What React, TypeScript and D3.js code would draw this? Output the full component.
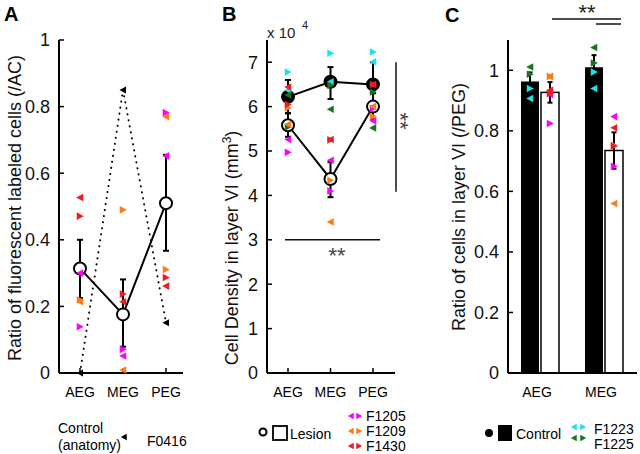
import React from "react";
import * as d3 from "d3";

const GROUPS3 = ["AEG", "MEG", "PEG"];
const GROUPS2 = ["AEG", "MEG"];

const COLORS: Record<string, string> = {
  F1205: "#ff00ff",
  F1209: "#ff7a1a",
  F1430: "#ee1c24",
  F1223: "#19e3ee",
  F1225: "#16761c",
};

// ---------- Panel A: ratio of fluorescent labeled cells (/AC)
const A_TICKS = [0, 0.2, 0.4, 0.6, 0.8, 1];
const A_TICK_LABELS = ["0", "0.2", "0.4", "0.6", "0.8", "1"];
const A_LESION_MEAN = [0.314, 0.176, 0.51];
const A_LESION_LO = [0.225, 0.079, 0.367];
const A_LESION_HI = [0.4, 0.281, 0.655];
const A_CONTROL_F0416 = [0.0, 0.85, 0.151];
const A_F1205_L = [0.3, 0.051, 0.652];
const A_F1205_R = [0.139, 0.071, 0.782];
const A_F1209_L = [0.214, 0.009, 0.77];
const A_F1209_R = [0.22, 0.49, 0.311];
const A_F1430_L = [0.527, 0.214, 0.261];
const A_F1430_R = [0.471, 0.237, 0.287];

// ---------- Panel B: cell density (x10^4 per mm3)
const B_TICKS = [0, 1, 2, 3, 4, 5, 6, 7];
const B_CONTROL_MEAN = [6.22, 6.56, 6.5];
const B_CONTROL_LO = [5.85, 6.17, 6.05];
const B_CONTROL_HI = [6.6, 6.89, 7.0];
const B_LESION_MEAN = [5.58, 4.37, 6.0];
const B_LESION_LO = [5.32, 3.96, 5.72];
const B_LESION_HI = [5.85, 4.75, 6.3];
const B_F1205_L = [5.26, 4.79, 5.68];
const B_F1205_R = [4.97, 4.1, 5.96];
const B_F1209_L = [5.6, 3.4, 6.0];
const B_F1209_R = [5.97, 4.34, 5.78];
const B_F1430_L = [6.44, 5.26, 6.5];
const B_F1430_R = [6.05, 5.25, 6.5];
const B_F1223_L = [6.37, 6.56, 7.01];
const B_F1223_R = [6.78, 7.2, 7.23];
const B_F1225_L = [6.26, 5.94, 5.52];
const B_F1225_R = [5.54, 6.48, 6.33];
const B_SIG_H = 3.0;
const B_SIG_V = [4.08, 7.0];

// ---------- Panel C: ratio of cells in layer VI (/PEG)
const C_TICKS = [0, 0.2, 0.4, 0.6, 0.8, 1];
const C_TICK_LABELS = ["0", "0.2", "0.4", "0.6", "0.8", "1"];
const C_CONTROL_BAR = [0.963, 1.01];
const C_CONTROL_ERR = [0.03, 0.04];
const C_LESION_BAR = [0.927, 0.735];
const C_LESION_ERR = [0.034, 0.06];
const C_F1223_L = [0.907, 0.94];
const C_F1223_R = [0.94, 0.994];
const C_F1225_L = [1.011, 1.075];
const C_F1225_R = [0.987, 1.024];
const C_F1205_L = [0.92, 0.847];
const C_F1205_R = [0.824, 0.683];
const C_F1209_L = [0.98, 0.56];
const C_F1209_R = [0.98, 0.752];
const C_F1430_L = [0.934, 0.81];
const C_F1430_R = [0.923, 0.749];

const FONT = "'Liberation Sans', Arial, Helvetica, sans-serif";

function triPath(x: number, y: number, dir: "L" | "R", s = 3.8) {
  if (dir === "L")
    return `M${x - s},${y}L${x + s * 0.85},${y - s}L${x + s * 0.85},${y + s}Z`;
  return `M${x + s},${y}L${x - s * 0.85},${y - s}L${x - s * 0.85},${y + s}Z`;
}

function Tri({ x, y, dir, color, s = 3.8 }: { x: number; y: number; dir: "L" | "R"; color: string; s?: number }) {
  return <path d={triPath(x, y, dir, s)} fill={color} />;
}

function ErrBar({ x, y1, y2, cap = 3 }: { x: number; y1: number; y2: number; cap?: number }) {
  return (
    <g stroke="#000" strokeWidth={2}>
      <line x1={x} x2={x} y1={y1} y2={y2} />
      <line x1={x - cap} x2={x + cap} y1={y1} y2={y1} />
      <line x1={x - cap} x2={x + cap} y1={y2} y2={y2} />
    </g>
  );
}

function YAxis({ x, y, ticks, labels, top, fs = 18 }: any) {
  return (
    <g>
      <line x1={x} x2={x} y1={top} y2={y(0)} stroke="#000" strokeWidth={2} />
      {ticks.map((t: number, i: number) => (
        <g key={i}>
          <line x1={x} x2={x + 5} y1={y(t)} y2={y(t)} stroke="#000" strokeWidth={1.5} />
          <text x={x - 9} y={y(t)} dy="0.36em" textAnchor="end" fontSize={fs} fill="#111">
            {labels ? labels[i] : String(t)}
          </text>
        </g>
      ))}
    </g>
  );
}

export default function App() {
  // ---------------- Panel A
  const yA = d3.scaleLinear().domain([0, 1]).range([373, 40]);
  const xA = d3.scalePoint<string>().domain(GROUPS3).range([80, 166]);
  const lineA = d3
    .line<number>()
    .x((_, i) => xA(GROUPS3[i]) as number)
    .y((d) => yA(d));
  const aSeries = [
    { id: "F1205", L: A_F1205_L, R: A_F1205_R },
    { id: "F1209", L: A_F1209_L, R: A_F1209_R },
    { id: "F1430", L: A_F1430_L, R: A_F1430_R },
  ];

  // ---------------- Panel B
  const yB = d3.scaleLinear().domain([0, 7.5]).range([373, 40]);
  const xB = d3.scalePoint<string>().domain(GROUPS3).range([288, 373]);
  const lineB = d3
    .line<number>()
    .x((_, i) => xB(GROUPS3[i]) as number)
    .y((d) => yB(d));
  const bSeries = [
    { id: "F1223", L: B_F1223_L, R: B_F1223_R },
    { id: "F1225", L: B_F1225_L, R: B_F1225_R },
    { id: "F1205", L: B_F1205_L, R: B_F1205_R },
    { id: "F1209", L: B_F1209_L, R: B_F1209_R },
    { id: "F1430", L: B_F1430_L, R: B_F1430_R },
  ];

  // ---------------- Panel C
  const yC = d3.scaleLinear().domain([0, 1.1]).range([373, 40]);
  const xC = d3.scaleBand<string>().domain(GROUPS2).range([508, 636]);
  const xCin = d3.scaleBand<string>().domain(["Control", "Lesion"]).range([13, 51]).paddingInner(0.1);
  const cControl = [
    { id: "F1223", L: C_F1223_L, R: C_F1223_R },
    { id: "F1225", L: C_F1225_L, R: C_F1225_R },
  ];
  const cLesion = [
    { id: "F1205", L: C_F1205_L, R: C_F1205_R },
    { id: "F1209", L: C_F1209_L, R: C_F1209_R },
    { id: "F1430", L: C_F1430_L, R: C_F1430_R },
  ];
  const bw = xCin.bandwidth();
  const barX = (g: string, k: string) => (xC(g) as number) + (xCin(k) as number);

  return (
    <svg
      width={640}
      height={454}
      style={{ position: "absolute", left: 0, top: 0, background: "#fff" }}
      fontFamily={FONT}
    >
      <rect width={640} height={454} fill="#fff" />
      {/* Panel letters */}
      <text x={4} y={21} fontSize={20} fontWeight="bold">A</text>
      <text x={222} y={21} fontSize={20} fontWeight="bold">B</text>
      <text x={445} y={22} fontSize={20} fontWeight="bold">C</text>

      {/* ================= Panel A ================= */}
      <g>
        <YAxis x={59} y={yA} ticks={A_TICKS} labels={A_TICK_LABELS} top={40} />
        <line x1={59} x2={183} y1={373} y2={373} stroke="#000" strokeWidth={2} />
        {GROUPS3.map((g) => (
          <g key={g}>
            <line x1={xA(g)} x2={xA(g)} y1={373} y2={368} stroke="#000" strokeWidth={1.5} />
            <text x={xA(g)} y={397} textAnchor="middle" fontSize={14}>{g}</text>
          </g>
        ))}
        <text transform="translate(21,208) rotate(-90)" textAnchor="middle" fontSize={18} fill="#111">
          Ratio of fluorescent labeled cells (/AC)
        </text>
        {/* control anatomy dotted */}
        <path
          d={lineA(A_CONTROL_F0416) || ""}
          fill="none"
          stroke="#000"
          strokeWidth={2}
          strokeDasharray="0.1 6"
          strokeLinecap="round"
        />
        {A_CONTROL_F0416.map((v, i) => (
          <Tri key={i} x={xA(GROUPS3[i]) as number} y={yA(v)} dir="L" color="#000" s={3.5} />
        ))}
        {GROUPS3.map((g, i) => (
          <ErrBar key={g} x={xA(g) as number} y1={yA(A_LESION_LO[i])} y2={yA(A_LESION_HI[i])} />
        ))}
        <path d={lineA(A_LESION_MEAN) || ""} fill="none" stroke="#000" strokeWidth={2} />
        {A_LESION_MEAN.map((v, i) => (
          <circle key={i} cx={xA(GROUPS3[i])} cy={yA(v)} r={6} fill="#fff" stroke="#000" strokeWidth={2} />
        ))}
        {aSeries.map((s) =>
          GROUPS3.map((g, i) => (
            <g key={s.id + g}>
              <Tri x={xA(g) as number} y={yA(s.L[i])} dir="L" color={COLORS[s.id]} />
              <Tri x={xA(g) as number} y={yA(s.R[i])} dir="R" color={COLORS[s.id]} />
            </g>
          ))
        )}
        {/* legend A */}
        <text x={58} y={433} fontSize={14}>Control</text>
        <text x={58} y={450} fontSize={14}>(anatomy)</text>
        <Tri x={124} y={437} dir="L" color="#000" s={3.2} />
        <text x={147} y={446} fontSize={14}>F0416</text>
      </g>

      {/* ================= Panel B ================= */}
      <g>
        <YAxis x={267} y={yB} ticks={B_TICKS} top={40} />
        <line x1={267} x2={395} y1={373} y2={373} stroke="#000" strokeWidth={2} />
        {GROUPS3.map((g) => (
          <g key={g}>
            <line x1={xB(g)} x2={xB(g)} y1={373} y2={368} stroke="#000" strokeWidth={1.5} />
            <text x={xB(g)} y={397} textAnchor="middle" fontSize={14}>{g}</text>
          </g>
        ))}
        <text x={267} y={38} fontSize={15} fill="#222">x 10</text>
        <text x={302} y={29} fontSize={11} fill="#222">4</text>
        <text transform="translate(238,248) rotate(-90)" textAnchor="middle" fontSize={18} fill="#111">
          Cell Density in layer VI (mm<tspan dy={-7} fontSize={12}>3</tspan><tspan dy={7}>)</tspan>
        </text>
        {GROUPS3.map((g, i) => (
          <g key={g}>
            <ErrBar x={xB(g) as number} y1={yB(B_CONTROL_LO[i])} y2={yB(B_CONTROL_HI[i])} />
            <ErrBar x={xB(g) as number} y1={yB(B_LESION_LO[i])} y2={yB(B_LESION_HI[i])} />
          </g>
        ))}
        <path d={lineB(B_CONTROL_MEAN) || ""} fill="none" stroke="#000" strokeWidth={2} />
        <path d={lineB(B_LESION_MEAN) || ""} fill="none" stroke="#000" strokeWidth={2} />
        {B_CONTROL_MEAN.map((v, i) => (
          <circle key={"c" + i} cx={xB(GROUPS3[i])} cy={yB(v)} r={6} fill="#000" stroke="#000" strokeWidth={2} />
        ))}
        {B_LESION_MEAN.map((v, i) => (
          <circle key={"l" + i} cx={xB(GROUPS3[i])} cy={yB(v)} r={6} fill="#fff" stroke="#000" strokeWidth={2} />
        ))}
        {bSeries.map((s) =>
          GROUPS3.map((g, i) => (
            <g key={s.id + g}>
              <Tri x={xB(g) as number} y={yB(s.L[i])} dir="L" color={COLORS[s.id]} />
              <Tri x={xB(g) as number} y={yB(s.R[i])} dir="R" color={COLORS[s.id]} />
            </g>
          ))
        )}
        {/* significance */}
        <line x1={285} x2={380} y1={yB(B_SIG_H)} y2={yB(B_SIG_H)} stroke="#111" strokeWidth={1.5} />
        <text x={337} y={263} textAnchor="middle" fontSize={22} fill="#444">**</text>
        <line x1={396} x2={396} y1={yB(B_SIG_V[0])} y2={yB(B_SIG_V[1])} stroke="#111" strokeWidth={1.5} />
        <text transform="translate(396,121) rotate(90)" x={0} y={3} textAnchor="middle" fontSize={22} fill="#444">**</text>
        {/* legend B */}
        <circle cx={263} cy={432} r={3.5} fill="#fff" stroke="#000" strokeWidth={2} />
        <rect x={273} y={426} width={14} height={14} fill="#fff" stroke="#000" strokeWidth={1.8} />
        <text x={290} y={439} fontSize={14}>Lesion</text>
        {["F1205", "F1209", "F1430"].map((id, i) => (
          <g key={id}>
            <Tri x={351} y={416 + i * 15} dir="L" color={COLORS[id]} s={3.2} />
            <Tri x={359} y={416 + i * 15} dir="R" color={COLORS[id]} s={3.2} />
            <text x={366} y={421 + i * 15} fontSize={14}>{id}</text>
          </g>
        ))}
      </g>

      {/* ================= Panel C ================= */}
      <g>
        {GROUPS2.map((g, i) => (
          <g key={g}>
            <rect
              x={barX(g, "Control")}
              y={yC(C_CONTROL_BAR[i])}
              width={bw}
              height={yC(0) - yC(C_CONTROL_BAR[i])}
              fill="#000"
            />
            <rect
              x={barX(g, "Lesion")}
              y={yC(C_LESION_BAR[i])}
              width={bw}
              height={yC(0) - yC(C_LESION_BAR[i])}
              fill="#fff"
              stroke="#000"
              strokeWidth={1.5}
            />
            <ErrBar
              x={barX(g, "Control") + bw / 2}
              y1={yC(C_CONTROL_BAR[i] - C_CONTROL_ERR[i])}
              y2={yC(C_CONTROL_BAR[i] + C_CONTROL_ERR[i])}
              cap={2.5}
            />
            <ErrBar
              x={barX(g, "Lesion") + bw / 2}
              y1={yC(C_LESION_BAR[i] - C_LESION_ERR[i])}
              y2={yC(C_LESION_BAR[i] + C_LESION_ERR[i])}
              cap={2.5}
            />
          </g>
        ))}
        <YAxis x={508} y={yC} ticks={C_TICKS} labels={C_TICK_LABELS} top={40} />
        <line x1={508} x2={637} y1={373} y2={373} stroke="#000" strokeWidth={2} />
        {GROUPS2.map((g) => (
          <text key={g} x={(xC(g) as number) + 29} y={397} textAnchor="middle" fontSize={14}>{g}</text>
        ))}
        <text transform="translate(465,207) rotate(-90)" textAnchor="middle" fontSize={18} fill="#111">
          Ratio of cells in layer VI (/PEG)
        </text>
        {GROUPS2.map((g, i) => (
          <g key={"p" + g}>
            {cControl.map((s) => (
              <g key={s.id}>
                <Tri x={barX(g, "Control") + bw / 2} y={yC(s.L[i])} dir="L" color={COLORS[s.id]} />
                <Tri x={barX(g, "Control") + bw / 2} y={yC(s.R[i])} dir="R" color={COLORS[s.id]} />
              </g>
            ))}
            {cLesion.map((s) => (
              <g key={s.id}>
                <Tri x={barX(g, "Lesion") + bw / 2} y={yC(s.L[i])} dir="L" color={COLORS[s.id]} />
                <Tri x={barX(g, "Lesion") + bw / 2} y={yC(s.R[i])} dir="R" color={COLORS[s.id]} />
              </g>
            ))}
          </g>
        ))}
        {/* significance */}
        <line x1={552} x2={621} y1={19} y2={19} stroke="#111" strokeWidth={1.5} />
        <line x1={596} x2={621} y1={24} y2={24} stroke="#111" strokeWidth={1.5} />
        <text x={587} y={20} textAnchor="middle" fontSize={22} fill="#222">**</text>
        {/* legend C */}
        <circle cx={489} cy={433} r={4} fill="#000" />
        <rect x={498} y={425} width={14} height={16} fill="#000" />
        <text x={516} y={439} fontSize={14}>Control</text>
        {["F1223", "F1225"].map((id, i) => (
          <g key={id}>
            <Tri x={574} y={427 + i * 11} dir="L" color={COLORS[id]} s={3.2} />
            <Tri x={583} y={427 + i * 11} dir="R" color={COLORS[id]} s={3.2} />
            <text x={594} y={434 + i * 15} fontSize={14}>{id}</text>
          </g>
        ))}
      </g>
    </svg>
  );
}
